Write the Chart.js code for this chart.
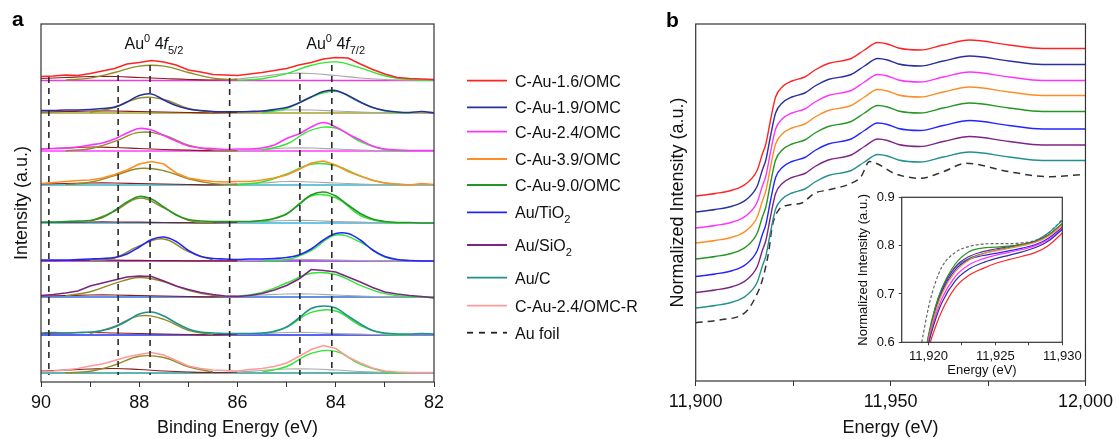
<!DOCTYPE html>
<html>
<head>
<meta charset="utf-8">
<script src="https://cdn.jsdelivr.net/npm/chart.js@4.4.1/dist/chart.umd.min.js"></script>
<style>
  html, body { margin: 0; padding: 0; background: #fff; }
  #wrap { position: relative; width: 1118px; height: 439px; overflow: hidden; }
  canvas { position: absolute; }
</style>
</head>
<body>
<div id="wrap">
  <canvas id="xps" width="640" height="439" style="left:0;top:0"></canvas>
  <canvas id="xanes" width="478" height="439" style="left:640px;top:0"></canvas>
  <canvas id="inset" width="240" height="200" style="left:845px;top:180px"></canvas>
</div>
<script>
const FONT = '"Liberation Sans", Arial, Helvetica, sans-serif';

// samples (legend order), "_" marks a subscript
const sampleNames = ['C-Au-1.6/OMC', 'C-Au-1.9/OMC', 'C-Au-2.4/OMC', 'C-Au-3.9/OMC', 'C-Au-9.0/OMC',
  'Au/TiO_2', 'Au/SiO_2', 'Au/C', 'C-Au-2.4/OMC-R'];
const sampleColors = ['#ff2424', '#28309c', '#ff33ff', '#ff8c24', '#249624', '#2424ff', '#7d2585', '#23908e', '#ff9a9a'];
const baseColors = ['#e23fd8', '#a3a32a', '#ff3cff', '#3bb3c9', '#3ab5e0', '#8e2de2', '#2f6fe0', '#2030f0', '#2a9d9a'];

// ---- panel a: Au 4f XPS (binding energy, eV) ----
const beFine = [90, 89.75, 89.5, 89.25, 89, 88.75, 88.5, 88.25, 88, 87.75, 87.5, 87.25, 87, 86.75, 86.5, 86.25,
  86, 85.75, 85.5, 85.25, 85, 84.75, 84.5, 84.25, 84, 83.75, 83.5, 83.25, 83, 82.75, 82.5, 82.25, 82];
const beCoarse = [90, 89.5, 89, 88.5, 88, 87.5, 87, 86.5, 86, 85.5, 85, 84.5, 84, 83.5, 83, 82.5, 82];

// stacking offset of each spectrum (a.u.)
const xpsOffset = [301.5, 269, 231, 197, 159, 121, 85, 47, 9];

// measured spectra, height above own baseline, on beFine
const xpsRaw = [
  [4, 4.5, 5.5, 5, 7, 9.5, 12, 16.5, 18, 20, 18.5, 15.5, 10.5, 8.5, 6, 5.5, 5, 6.5, 8, 10, 12, 15.5, 18, 21.5, 23, 22.5, 16.5, 11, 6.5, 3, 2, 1.5, 1],
  [2.5, 2.5, 3, 3, 3.5, 4.5, 6, 11, 17.5, 19, 13, 7.5, 4, 2.5, 1.5, 1.2, 1.2, 1.5, 2, 3.5, 5.5, 10, 16, 21.5, 22.5, 17.5, 11, 5.5, 2.5, 1, 0.5, 1.5, 0],
  [2, 2.5, 3, 4, 6, 8, 12, 18, 22.5, 21, 15.5, 10, 5, 3, 2.5, 1.5, 2, 2, 3, 6, 12.5, 17, 24, 28.5, 24, 17, 11, 5, 2, 1, 0.5, 0.5, 0.5],
  [1.5, 2.5, 3.5, 4.5, 5, 7, 10.5, 15, 21, 23.5, 21, 12, 7, 5, 3.5, 3, 3.5, 3.5, 5, 7, 10, 15.5, 22, 24, 20, 13.5, 9, 4.5, 2, 1, 0, 1.5, 0.5],
  [1, 1, 1.5, 2, 2.5, 5.5, 12.5, 21, 26.5, 24, 16, 8, 3.5, 2, 1.5, 1.5, 1.5, 1.5, 2.5, 4.5, 9, 18.5, 28, 31, 27, 18, 9.5, 4, 1.5, 0.5, 0.5, 0, 0],
  [1, 1, 1, 1.5, 2, 2.5, 3.5, 7, 14, 21.5, 24, 19.5, 10.5, 4.5, 2.5, 2, 1.5, 2, 2, 2.5, 3.5, 6, 12, 21, 27.5, 27.5, 21, 11, 4.5, 1.5, 0.5, 0, 0],
  [1.5, 2.5, 4, 6, 11, 14, 17, 20, 21, 20.5, 16, 11, 7.5, 4.5, 2.5, 1, 0.5, 1.5, 3.5, 7, 11.5, 18, 27.5, 26.5, 25, 20, 15, 9.5, 5, 3, 1.5, 0.5, -1],
  [2, 2.5, 2, 2.5, 3, 4.5, 8, 14, 21, 23, 19, 12, 6, 3, 2, 1.5, 1.5, 1.5, 2, 3.5, 8, 17, 26.5, 29, 27, 19, 11, 4.5, 2, 1, 1, 1.5, 1],
  [1.5, 2, 3, 4.5, 7, 9, 12.5, 16, 18.5, 20.5, 18, 12.5, 7, 4.5, 3, 2.5, 2, 3.5, 4.5, 6.5, 10, 16.5, 23.5, 27.5, 24.5, 16, 10, 5, 2, 1, 0.5, 0.5, 0.5]
];
const noisy = [true, false, false, true, false, false, true, false, true];

// fitted Au0 4f5/2 component, on beCoarse
const xpsFit52 = [
  [null, 0.4, 2.4, 8, 14.4, 14.4, 8, 2.4, 0.4, null, null, null, null, null, null, null, null],
  [null, null, 0.8, 5.5, 15, 13.5, 4.5, 0.6, null, null, null, null, null, null, null, null, null],
  [null, 0.2, 2.2, 9.6, 18.6, 15.8, 5.9, 1, 0.1, null, null, null, null, null, null, null, null],
  [null, 0.4, 2.7, 9.4, 16.5, 14.3, 6.2, 1.4, 0.2, null, null, null, null, null, null, null, null],
  [null, null, 1.6, 11.8, 24.8, 15.2, 2.7, 0.1, null, null, null, null, null, null, null, null, null],
  [null, null, 0.2, 3, 15.2, 22, 9.3, 1.1, null, null, null, null, null, null, null, null, null],
  [null, 1.1, 5.3, 13.6, 19.5, 15.3, 6.7, 1.6, 0.2, null, null, null, null, null, null, null, null],
  [null, null, 1.4, 8.6, 19.1, 15.7, 4.7, 0.5, null, null, null, null, null, null, null, null, null],
  [null, 0.2, 1.7, 8, 16.8, 15.5, 6.2, 1.1, null, null, null, null, null, null, null, null, null]
];
// fitted Au0 4f7/2 component, on beCoarse
const xpsFit72 = [
  [null, null, null, null, null, null, null, null, 0.3, 1.7, 6.9, 15.2, 18.6, 12.6, 4.7, 0.9, 0.2],
  [null, null, null, null, null, null, null, null, null, 0.4, 4.4, 16, 21.6, 10.7, 2, 0.1, null],
  [null, null, null, null, null, null, null, null, null, 0.8, 7, 20.9, 23, 9.4, 1.4, 0.1, null],
  [null, null, null, null, null, null, null, null, 0.3, 3, 11, 20.8, 19.3, 9, 2.1, 0.2, null],
  [null, null, null, null, null, null, null, null, null, 1, 9.3, 27, 25.2, 7.5, 0.8, 0.1, null],
  [null, null, null, null, null, null, null, null, null, 0.1, 1.2, 10.4, 26, 18.9, 4, 0.2, null],
  [null, null, null, null, null, null, null, null, 0.8, 4.5, 14, 23.8, 22.5, 11.7, 3.4, 0.5, 0],
  [null, null, null, null, null, null, null, null, null, 1, 7.8, 22.7, 24, 9.4, 1.3, 0.1, null],
  [null, null, null, null, null, null, null, null, null, 0.8, 6.5, 19.6, 21.6, 8.8, 1.3, 0.1, null]
];
// minor components (high-BE side brown, low-BE side grey), on beCoarse
const xpsMinor = [
  [2, 3, 4, 4, 3, 2, 1, 0.5, 1.5, 4, 7, 7, 5, 2.5, 1, 0.3, 0],
  [1, 1.5, 2, 2, 1.5, 1, 0.5, 0.2, 0.5, 1.5, 3, 3, 2, 1, 0.3, 0, 0],
  [2, 3, 4, 3.5, 2.5, 1.5, 0.8, 0.3, 0.5, 1.5, 3, 3, 2, 1, 0.3, 0, 0],
  [1, 1.5, 2, 2, 1.5, 1, 0.5, 0.2, 0.8, 2, 3.5, 3, 2, 1, 0.3, 0, 0],
  [0.5, 0.8, 1, 1, 0.8, 0.5, 0.3, 0.1, 0.5, 1.5, 2.5, 2.5, 1.5, 0.8, 0.3, 0, 0],
  [0.3, 0.5, 0.8, 0.8, 0.6, 0.4, 0.2, 0.1, 0.2, 0.8, 1.5, 1.5, 1, 0.5, 0.2, 0, 0],
  [1, 1.5, 2, 2, 1.5, 1, 0.5, 0.2, 0.8, 2, 3, 3, 2, 1, 0.3, 0, 0],
  [1.5, 2, 2.5, 2, 1.5, 1, 0.5, 0.2, 0.8, 1.5, 2.5, 2.5, 1.5, 0.8, 0.3, 0, 0],
  [2, 3, 4, 4.5, 3.5, 2, 1, 0.5, 1, 2.5, 4, 4, 3, 1.5, 0.5, 0, 0]
];
// dashed reference lines (eV) and their upper ends (a.u.)
const dashBE = [89.84, 88.43, 87.78, 86.16, 84.73, 84.08];
const dashTop = [305, 307, 317, 304, 309, 317];
const dashBottom = 7;
const xpsTicks = [90, 89, 88, 87, 86, 85, 84, 83, 82];

// ---- panel b: Au L3-edge XANES ----
const xanesE = [11900, 11905, 11909.5, 11913, 11915.8, 11917.1, 11918, 11919.2, 11920.5, 11922.2, 11924.7, 11928,
  11930.6, 11934, 11939.9, 11943.3, 11946.7, 11949.2, 11952, 11957.6, 11963.5, 11970.3, 11980.4, 11988.9, 12000];
// top (C-Au-1.6/OMC) trace; the others are the same profile stacked lower
const xanesTop = [185, 187.5, 191, 197.5, 211, 227, 237, 261, 284, 294, 300, 304,
  311, 317.5, 322.5, 331, 338.5, 337, 333, 331, 336, 341, 336, 332.5, 332.5];
const xanesShift = [0, -16, -32, -47, -63, -80.5, -96.5, -112];
const foilE = [11900, 11906, 11912.9, 11915.4, 11917.1, 11918.8, 11919.6, 11921.3, 11923.9, 11927.2, 11930.6, 11934,
  11939.9, 11942.4, 11944.6, 11946.7, 11950.9, 11957.6, 11963.5, 11969.4, 11980.4, 11990.5, 12000];
const foilMu = [58.3, 61, 69.3, 84.3, 101, 131, 154, 171, 176, 178, 188, 191,
  197.7, 204.3, 219.5, 217, 207.7, 202.7, 209.3, 217.7, 209.3, 204.3, 206.7];
const xanesTicks = [11900, 11925, 11950, 11975, 12000];

// ---- inset: edge region ----
const insetE = [11919.5, 11920, 11920.5, 11921, 11922, 11923, 11924, 11925, 11926, 11927, 11928, 11929, 11930];
const insetMu = [
  [0.50, 0.585, 0.630, 0.665, 0.713, 0.738, 0.752, 0.763, 0.771, 0.778, 0.786, 0.801, 0.826],
  [0.51, 0.595, 0.645, 0.682, 0.727, 0.751, 0.764, 0.773, 0.780, 0.787, 0.796, 0.810, 0.834],
  [0.515, 0.600, 0.652, 0.690, 0.736, 0.760, 0.772, 0.780, 0.786, 0.792, 0.800, 0.813, 0.836],
  [0.52, 0.605, 0.660, 0.700, 0.746, 0.770, 0.782, 0.789, 0.794, 0.800, 0.807, 0.820, 0.842],
  [0.53, 0.615, 0.672, 0.712, 0.762, 0.787, 0.795, 0.797, 0.799, 0.802, 0.808, 0.822, 0.846],
  [0.52, 0.605, 0.664, 0.704, 0.750, 0.771, 0.779, 0.784, 0.789, 0.795, 0.802, 0.816, 0.838],
  [0.525, 0.610, 0.668, 0.708, 0.756, 0.777, 0.787, 0.793, 0.798, 0.803, 0.809, 0.823, 0.845],
  [0.525, 0.610, 0.670, 0.710, 0.755, 0.773, 0.783, 0.790, 0.796, 0.802, 0.810, 0.827, 0.852]
];
const insetFoil = [0.60, 0.672, 0.722, 0.756, 0.786, 0.798, 0.803, 0.804, 0.804, 0.806, 0.811, 0.827, 0.854];
const insetTicksX = [11920, 11922.5, 11925, 11927.5, 11930];
const insetTicksY = [0.6, 0.7, 0.8, 0.9];

Chart.defaults.font.family = FONT;
Chart.defaults.color = '#111';

const pts = (xs, ys, off) => xs.map((x, j) => ({ x: x, y: ys[j] == null ? null : ys[j] + off }));

function drawRich(ctx, text, x, y, size) {
  // "^" superscript, "_" subscript, "~" italic, each for one chunk
  let cx = x;
  text.split('|').forEach(chunk => {
    let mode = '';
    if ('^_~'.includes(chunk[0])) { mode = chunk[0]; chunk = chunk.slice(1); }
    const small = mode === '^' || mode === '_';
    ctx.font = (mode === '~' ? 'italic ' : '') + (small ? Math.round(size * 0.68) : size) + 'px ' + FONT;
    const dy = mode === '^' ? -size * 0.42 : mode === '_' ? size * 0.32 : 0;
    ctx.fillText(chunk, cx, y + dy);
    cx += ctx.measureText(chunk).width;
  });
}

const frame = {
  id: 'frame',
  afterDatasetsDraw(chart) {
    const a = chart.chartArea, ctx = chart.ctx;
    ctx.save();
    ctx.strokeStyle = '#333';
    ctx.lineWidth = 1.2;
    ctx.strokeRect(a.left, a.top, a.right - a.left, a.bottom - a.top);
    ctx.restore();
  }
};

// ---------- panel a ----------
const xpsSets = [];
sampleNames.forEach((name, i) => {
  const off = xpsOffset[i];
  xpsSets.push({ data: [{ x: 90, y: off }, { x: 82, y: off }], borderColor: baseColors[i], borderWidth: 1.3 });
  xpsSets.push({
    data: pts(beCoarse, xpsMinor[i], off), borderWidth: 1.2, tension: 0.4,
    segment: { borderColor: c => c.p0.parsed.x > 86.2 ? '#8b1c1c' : '#a8a8a8' }
  });
  xpsSets.push({ data: pts(beCoarse, xpsFit52[i], off), borderColor: '#8f8b26', borderWidth: 1.4, tension: 0.4 });
  xpsSets.push({ data: pts(beCoarse, xpsFit72[i], off), borderColor: '#2ee82e', borderWidth: 1.4, tension: 0.4 });
  xpsSets.push({ data: pts(beFine, xpsRaw[i], off), borderColor: sampleColors[i], borderWidth: 1.6, tension: noisy[i] ? 0 : 0.35 });
});
dashBE.forEach((b, i) => {
  xpsSets.push({ data: [{ x: b, y: dashTop[i] }, { x: b, y: dashBottom }], borderColor: '#2b2b2b', borderWidth: 1.6, borderDash: [6, 5] });
});

const xpsDecor = {
  id: 'xpsDecor',
  afterDraw(chart) {
    const ctx = chart.ctx, xs = chart.scales.x;
    ctx.save();
    ctx.fillStyle = '#000';
    ctx.textBaseline = 'alphabetic';
    ctx.font = 'bold 21px ' + FONT;
    ctx.fillText('a', 12, 26);
    ctx.fillStyle = '#111';
    drawRich(ctx, 'Au|^0| 4|~f|_5/2', xs.getPixelForValue(88.3), 49, 16);
    drawRich(ctx, 'Au|^0| 4|~f|_7/2', xs.getPixelForValue(84.6), 49, 16);
    // legend
    const ly = [80.7, 107.3, 131.7, 159, 185, 212.3, 245, 277.7, 305.7, 332.7];
    const labels = sampleNames.concat(['Au foil']);
    labels.forEach((lab, i) => {
      const y = ly[i];
      ctx.beginPath();
      ctx.lineWidth = 1.8;
      if (i < sampleNames.length) { ctx.strokeStyle = sampleColors[i]; ctx.setLineDash([]); }
      else { ctx.strokeStyle = '#222'; ctx.setLineDash([6, 6]); }
      ctx.moveTo(467, y); ctx.lineTo(507, y); ctx.stroke();
      ctx.setLineDash([]);
      ctx.fillStyle = '#111';
      drawRich(ctx, lab.replace('_', '|_'), 515, y + 6, 16);
    });
    ctx.restore();
  }
};

new Chart(document.getElementById('xps'), {
  type: 'line',
  data: { datasets: xpsSets.reverse() },
  options: {
    responsive: false, animation: false, parsing: true,
    layout: { padding: { top: 24, right: 206, left: 0, bottom: 0 } },
    elements: { point: { radius: 0 } },
    plugins: { legend: { display: false }, tooltip: { enabled: false } },
    scales: {
      x: {
        type: 'linear', min: 82, max: 90, reverse: true,
        afterBuildTicks: s => { s.ticks = xpsTicks.map(v => ({ value: v })); },
        afterFit: s => { s.height = 57; },
        grid: { drawOnChartArea: false, tickLength: 5, color: '#333' },
        border: { display: false },
        ticks: { autoSkip: false, maxRotation: 0, padding: 5, font: { size: 18 },
          callback: v => (v % 2 === 0 ? String(v) : '') },
        title: { display: true, text: 'Binding Energy (eV)', font: { size: 18 }, padding: { top: 0, bottom: 0 } }
      },
      y: {
        min: 0, max: 358,
        afterFit: s => { s.width = 41; },
        grid: { display: false }, border: { display: false },
        ticks: { display: false },
        title: { display: true, text: 'Intensity (a.u.)', font: { size: 18 }, padding: { top: 11, bottom: 0 } }
      }
    }
  },
  plugins: [frame, xpsDecor]
});

// ---------- panel b ----------
const xanesSets = [];
xanesShift.forEach((sh, k) => {
  xanesSets.push({ data: pts(xanesE, xanesTop, sh), borderColor: sampleColors[k], borderWidth: 1.4, cubicInterpolationMode: 'monotone' });
});
xanesSets.push({ data: pts(foilE, foilMu, 0), borderColor: '#333', borderWidth: 1.5, borderDash: [7, 5], cubicInterpolationMode: 'monotone' });

const xanesDecor = {
  id: 'xanesDecor',
  afterDraw(chart) {
    const ctx = chart.ctx;
    ctx.save();
    ctx.fillStyle = '#000';
    ctx.font = 'bold 21px ' + FONT;
    ctx.fillText('b', 26, 27);
    ctx.restore();
  }
};

new Chart(document.getElementById('xanes'), {
  type: 'line',
  data: { datasets: xanesSets },
  options: {
    responsive: false, animation: false,
    layout: { padding: { top: 24, right: 27, left: 0, bottom: 0 } },
    elements: { point: { radius: 0 } },
    plugins: { legend: { display: false }, tooltip: { enabled: false } },
    scales: {
      x: {
        type: 'linear', min: 11900, max: 12000,
        afterBuildTicks: s => { s.ticks = xanesTicks.map(v => ({ value: v })); },
        afterFit: s => { s.height = 58; },
        grid: { drawOnChartArea: false, tickLength: 5, color: '#333' },
        border: { display: false },
        ticks: { autoSkip: false, maxRotation: 0, padding: 5, font: { size: 18 },
          callback: v => (v % 50 === 0 ? v.toLocaleString('en-US') : '') },
        title: { display: true, text: 'Energy (eV)', font: { size: 18 }, padding: { top: 0, bottom: 0 } }
      },
      y: {
        min: 0, max: 357,
        afterFit: s => { s.width = 55.7; },
        grid: { display: false }, border: { display: false },
        ticks: { display: false },
        title: { display: true, text: 'Normalized Intensity (a.u.)', font: { size: 18 }, padding: { top: 27, bottom: 0 } }
      }
    }
  },
  plugins: [frame, xanesDecor]
});

// ---------- inset ----------
const insetSets = insetMu.map((row, k) => ({
  data: pts(insetE, row, 0), borderColor: sampleColors[k], borderWidth: 1.2, cubicInterpolationMode: 'monotone'
}));
insetSets.push({ data: pts(insetE, insetFoil, 0), borderColor: '#666', borderWidth: 1.2, borderDash: [3, 2], cubicInterpolationMode: 'monotone' });

new Chart(document.getElementById('inset'), {
  type: 'line',
  data: { datasets: insetSets },
  options: {
    responsive: false, animation: false,
    layout: { padding: { top: 17.3, right: 22.7, left: 0, bottom: 0 } },
    elements: { point: { radius: 0 } },
    plugins: { legend: { display: false }, tooltip: { enabled: false } },
    scales: {
      x: {
        type: 'linear', min: 11918, max: 11930,
        afterBuildTicks: s => { s.ticks = insetTicksX.map(v => ({ value: v })); },
        afterFit: s => { s.height = 37.7; },
        grid: { drawOnChartArea: false, tickLength: 3, color: '#444' },
        border: { display: false },
        ticks: { autoSkip: false, maxRotation: 0, padding: 3, font: { size: 13 },
          callback: v => (v % 5 === 0 ? v.toLocaleString('en-US') : '') },
        title: { display: true, text: 'Energy (eV)', font: { size: 13 }, padding: { top: 0, bottom: 1.5 } }
      },
      y: {
        min: 0.6, max: 0.9,
        afterBuildTicks: s => { s.ticks = insetTicksY.map(v => ({ value: v })); },
        afterFit: s => { s.width = 56.7; },
        grid: { drawOnChartArea: false, tickLength: 3, color: '#444' },
        border: { display: false },
        ticks: { padding: 4, font: { size: 13 }, callback: v => v.toFixed(1) },
        title: { display: true, text: 'Normalized Intensity (a.u.)', font: { size: 13 }, padding: { top: 10.5, bottom: 0 } }
      }
    }
  },
  plugins: [frame]
});
</script>
</body>
</html>
